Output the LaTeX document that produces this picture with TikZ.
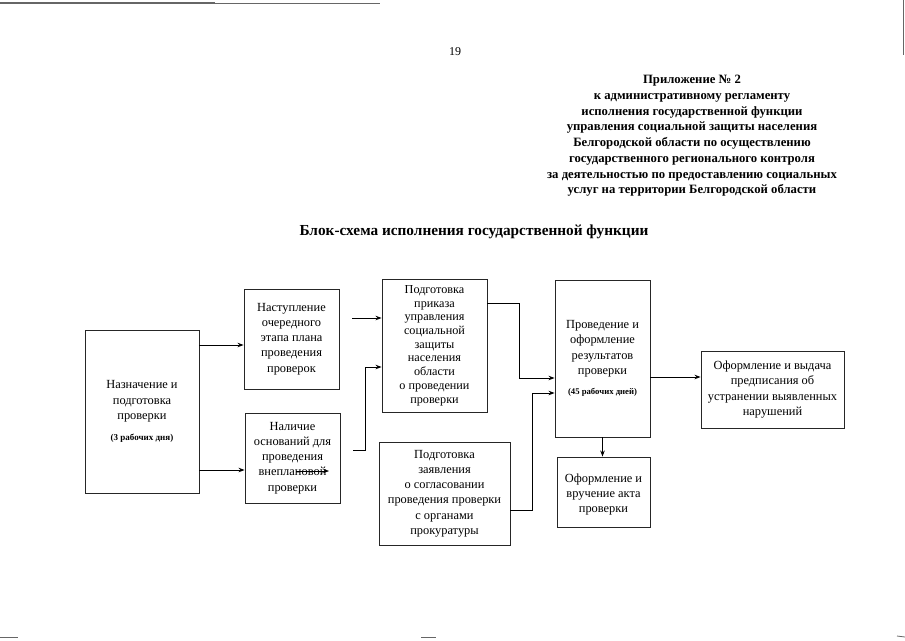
\documentclass[tikz,border=0pt]{standalone}
\usepackage{fontspec}
\setmainfont{Liberation Serif}
\usetikzlibrary{arrows.meta}
\begin{document}
\begin{tikzpicture}[x=1pt,y=-1pt,
  box/.style={draw=black!85,line width=0.9pt,align=center,inner sep=2pt,
    font=\fontsize{12.4}{15.2}\selectfont},
  arr/.style={draw=black,line width=0.9pt,-{Stealth[length=6pt,width=4.5pt]}},
  scan/.style={draw=black!60,line width=0.8pt}]
\useasboundingbox[fill=white] (0,0) rectangle (905,640);
% scan marks
\draw[scan,line width=1.4pt] (0,3) -- (215,3);
\draw[scan] (215,3) -- (380,3);
\draw[scan] (903,0) -- (903,55);
\draw[scan] (0,637) -- (18,637);
\draw[scan] (421,637) -- (436,637);
\draw[scan] (897,636) -- (905,637);
% page number and headers
\node[font=\fontsize{12}{14}\selectfont] (pg) at (455,52) {19};
\node[align=center,font=\bfseries\fontsize{12.7}{15.7}\selectfont] (hdr) at (692,136)
 {Приложение № 2\\к административному регламенту\\исполнения государственной функции\\управления социальной защиты населения\\Белгородской области по осуществлению\\государственного регионального контроля\\за деятельностью по предоставлению социальных\\услуг на территории Белгородской области};
\node[font=\bfseries\fontsize{15.3}{18}\selectfont] (title) at (474,232)
 {Блок-схема исполнения государственной функции};
% boxes
\node[box,minimum width=114,minimum height=163] (A) at (142,411.5)
 {Назначение и\\подготовка\\проверки\\[6pt]{\bfseries\fontsize{9}{10}\selectfont (3 рабочих дня)}};
\node[box,minimum width=95,minimum height=100] (B) at (291.5,339)
 {Наступление\\очередного\\этапа плана\\проведения\\проверок};
\node[box,minimum width=95,minimum height=90] (C) at (292.5,458)
 {Наличие\\оснований для\\проведения\\внеплановой\\проверки};
\node[box,minimum width=105,minimum height=133,font=\fontsize{12.2}{13.7}\selectfont] (D) at (434.5,345.5)
 {Подготовка\\приказа\\управления\\социальной\\защиты\\населения\\области\\о проведении\\проверки};
\node[box,minimum width=131,minimum height=103] (E) at (444.5,493.5)
 {Подготовка\\заявления\\о согласовании\\проведения проверки\\с органами\\прокуратуры};
\node[box,minimum width=95,minimum height=157] (F) at (602.5,358.5)
 {Проведение и\\оформление\\результатов\\проверки\\[5pt]{\bfseries\fontsize{8.7}{10}\selectfont (45 рабочих дней)}};
\node[box,minimum width=93,minimum height=70] (G) at (603.5,492)
 {\mbox{}\\[-2pt]Оформление и\\вручение акта\\проверки};
\node[box,minimum width=143,minimum height=77] (H) at (772.5,389.5)
 {Оформление и выдача\\предписания об\\устранении выявленных\\нарушений};
% connectors
\draw[arr] (A.east |- 0,345) -- (B.west |- 0,345);
\draw[arr] (A.east |- 0,470) -- (C.west |- 0,470);
\draw[arr] ([xshift=13pt]B.east |- 0,318) -- (D.west |- 0,318);
\draw[arr] ([xshift=13pt]C.east |- 0,450) -- (365,450) -- (365,367) -- (D.west |- 0,367);
\draw[arr] (D.east |- 0,303) -- (519,303) -- (519,378) -- (F.west |- 0,378);
\draw[arr] (E.east |- 0,510) -- (532,510) -- (532,393) -- (F.west |- 0,393);
\draw[arr] (F.south) -- (F.south |- G.north);
\draw[arr] (F.east |- 0,377) -- (H.west |- 0,377);
% stray arrow inside box C
\coordinate (s1) at (296,471);
\coordinate (s2) at (329,471);
\draw[arr,line width=0.7pt] (s1) -- (s2);
\end{tikzpicture}
\end{document}
